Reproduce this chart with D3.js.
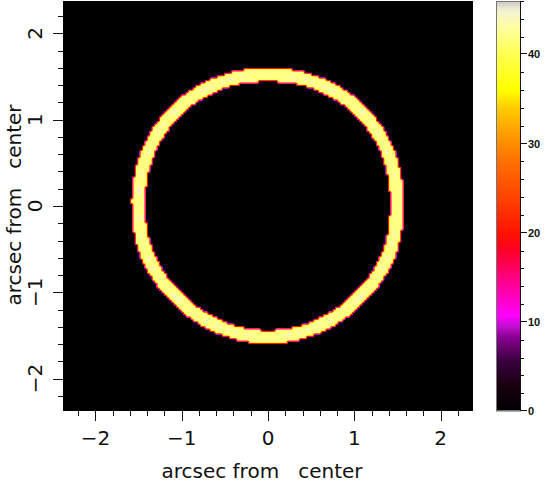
<!DOCTYPE html>
<html>
<head>
<meta charset="UTF-8">
<script src="https://d3js.org/d3.v7.min.js"></script>
<style>
  body { margin: 0; background: #fff; }
  svg { display: block; }
  text { fill: #111; }
  .tickLabel, .axisTitle { font-family: "DejaVu Sans", sans-serif; font-size: 20px; }
  .barLabel { font-family: "Liberation Sans", Arial, sans-serif; font-size: 11px; font-weight: bold; }
  .tick { stroke: #111; stroke-width: 1; shape-rendering: crispEdges; }
</style>
</head>
<body>
<svg id="chart" width="545" height="483"></svg>
<script>
// ring ridge radius (arcsec) at these angles (deg, ccw from +x)
const ringAngles = [0, 22.5, 45, 67.5, 90, 112.5, 135, 157.5, 180, 202.5, 225, 247.5, 270, 292.5, 315, 337.5]
const ringRadii  = [1.49, 1.52, 1.54, 1.53, 1.52, 1.53, 1.54, 1.52, 1.50, 1.51, 1.50, 1.51, 1.52, 1.51, 1.50, 1.51]
const ringHalfWidth = 0.078   // arcsec
const ringPeak = 42
const ringCrest = 46          // greyish dots along the ridge
const crestHalfWidth = 0.0025
const gridSize = 170          // source pixels across the field

const axisExtent = [-2.375, 2.375]
const majorTicks = [-2, -1, 0, 1, 2]
const minorStep = 0.2
const axisTitle = 'arcsec from   center'

const barDomain = [0, 46]
const barMajorTicks = [0, 10, 20, 30, 40]
const barMinorStep = 2

// colour table
const cmapValues = [0, 3, 5.7, 8.3, 9.5, 10.7, 13, 15.6, 18, 20, 24, 28, 31, 34, 36, 40, 43, 45, 46]
const cmapColors = ['#000000', '#1a0012', '#3c0040', '#880090', '#c010d0', '#ff00ff', '#ff00b8',
                    '#ff0070', '#ff0028', '#ff1400', '#ff4400', '#ff7000', '#ff9c00', '#ffcc00',
                    '#ffff00', '#ffff50', '#ffffa0', '#f2f2d4', '#c8c8c8']

const plot = {left: 63, top: 1, size: 410}
const bar = {left: 496, width: 25}

let svg = d3.select('#chart')

let x = d3.scaleLinear().domain(axisExtent).range([plot.left, plot.left + plot.size])
let y = d3.scaleLinear().domain(axisExtent).range([plot.top + plot.size, plot.top])
let color = d3.scaleLinear().domain(cmapValues).range(cmapColors).clamp(true)

let ridge = theta => {
    // theta in degrees, cyclic linear lookup in the read-off radii
    let t = ((theta % 360) + 360) % 360
    let i = d3.bisectRight(ringAngles, t) - 1
    let a0 = ringAngles[i], r0 = ringRadii[i]
    let a1 = i + 1 < ringAngles.length ? ringAngles[i + 1] : 360
    let r1 = ringRadii[(i + 1) % ringRadii.length]
    return r0 + (r1 - r0) * (t - a0) / (a1 - a0)
}

// source image values on a coarse grid
let cell = (axisExtent[1] - axisExtent[0]) / gridSize
let grid = new Float32Array(gridSize * gridSize)
for (let j = 0; j < gridSize; j++) {
    for (let i = 0; i < gridSize; i++) {
        let xd = axisExtent[0] + (i + 0.5) * cell
        let yd = axisExtent[0] + (j + 0.5) * cell
        let r = Math.hypot(xd, yd)
        let d = Math.abs(r - ridge(Math.atan2(yd, xd) * 180 / Math.PI))
        grid[j * gridSize + i] = d <= ringHalfWidth ? (d < crestHalfWidth ? ringCrest : ringPeak) : 0
    }
}
let gv = (i, j) => {
    i = Math.max(0, Math.min(gridSize - 1, i))
    j = Math.max(0, Math.min(gridSize - 1, j))
    return grid[j * gridSize + i]
}

// resample to screen pixels (bilinear) and paint through the colour scale
let canvas = document.createElement('canvas')
canvas.width = plot.size
canvas.height = plot.size
let ctx = canvas.getContext('2d')
let img = ctx.createImageData(plot.size, plot.size)
for (let py = 0; py < plot.size; py++) {
    for (let px = 0; px < plot.size; px++) {
        let xd = x.invert(plot.left + px + 0.5)
        let yd = y.invert(plot.top + py + 0.5)
        let fi = (xd - axisExtent[0]) / cell - 0.5
        let fj = (yd - axisExtent[0]) / cell - 0.5
        let i0 = Math.floor(fi), j0 = Math.floor(fj)
        let tx = fi - i0, ty = fj - j0
        let v = gv(i0, j0) * (1 - tx) * (1 - ty) + gv(i0 + 1, j0) * tx * (1 - ty)
              + gv(i0, j0 + 1) * (1 - tx) * ty + gv(i0 + 1, j0 + 1) * tx * ty
        let c = d3.rgb(color(v))
        let k = (py * plot.size + px) * 4
        img.data[k] = c.r
        img.data[k + 1] = c.g
        img.data[k + 2] = c.b
        img.data[k + 3] = 255
    }
}
ctx.putImageData(img, 0, 0)

svg.append('image')
    .attr('x', x(axisExtent[0]))
    .attr('y', y(axisExtent[1]))
    .attr('width', x(axisExtent[1]) - x(axisExtent[0]))
    .attr('height', y(axisExtent[0]) - y(axisExtent[1]))
    .attr('preserveAspectRatio', 'none')
    .attr('href', canvas.toDataURL())

// axis ticks
let minorTicks = d3.range(-2.2, 2.3, minorStep).map(v => Math.round(v * 10) / 10)
    .filter(v => !majorTicks.includes(v))
let bottom = y(axisExtent[0])

svg.selectAll('.xMinor').data(minorTicks).enter().append('line')
    .attr('class', 'tick')
    .attr('x1', d => Math.round(x(d)) + 0.5).attr('x2', d => Math.round(x(d)) + 0.5)
    .attr('y1', bottom).attr('y2', bottom + 5)
svg.selectAll('.xMajor').data(majorTicks).enter().append('line')
    .attr('class', 'tick')
    .attr('x1', d => Math.round(x(d)) + 0.5).attr('x2', d => Math.round(x(d)) + 0.5)
    .attr('y1', bottom).attr('y2', bottom + 10)
svg.selectAll('.yMinor').data(minorTicks).enter().append('line')
    .attr('class', 'tick')
    .attr('y1', d => Math.round(y(d)) + 0.5).attr('y2', d => Math.round(y(d)) + 0.5)
    .attr('x1', plot.left - 5).attr('x2', plot.left)
svg.selectAll('.yMajor').data(majorTicks).enter().append('line')
    .attr('class', 'tick')
    .attr('y1', d => Math.round(y(d)) + 0.5).attr('y2', d => Math.round(y(d)) + 0.5)
    .attr('x1', plot.left - 10).attr('x2', plot.left)

let fmt = d => d < 0 ? '\u2212' + Math.abs(d) : String(d)

svg.selectAll('.xLabel').data(majorTicks).enter().append('text')
    .attr('class', 'tickLabel')
    .attr('x', d => x(d)).attr('y', 445)
    .attr('text-anchor', 'middle')
    .text(fmt)
svg.selectAll('.yLabel').data(majorTicks).enter().append('text')
    .attr('class', 'tickLabel')
    .attr('transform', d => `translate(42, ${y(d)}) rotate(-90)`)
    .attr('text-anchor', 'middle')
    .text(fmt)

svg.append('text')
    .attr('class', 'axisTitle')
    .attr('x', x(0) - 6).attr('y', 478)
    .attr('text-anchor', 'middle')
    .style('white-space', 'pre')
    .text(axisTitle)
svg.append('text')
    .attr('class', 'axisTitle')
    .attr('transform', `translate(21, ${y(0) - 1}) rotate(-90)`)
    .attr('text-anchor', 'middle')
    .style('white-space', 'pre')
    .text(axisTitle)

// colour bar
let yb = d3.scaleLinear().domain(barDomain).range([plot.top + plot.size, plot.top])
let barStep = (barDomain[1] - barDomain[0]) / plot.size
svg.append('g').selectAll('rect')
    .data(d3.range(barDomain[0], barDomain[1], barStep))
    .enter().append('rect')
    .attr('x', bar.left)
    .attr('y', d => yb(d + barStep))
    .attr('width', bar.width)
    .attr('height', d => yb(d) - yb(d + barStep) + 0.3)
    .attr('fill', d => color(d + barStep / 2))
svg.append('rect')
    .attr('x', bar.left + 0.5).attr('y', yb(barDomain[1]) + 0.5)
    .attr('width', bar.width - 1).attr('height', yb(barDomain[0]) - yb(barDomain[1]) - 1)
    .attr('fill', 'none').attr('stroke', '#777')
svg.append('line')
    .attr('class', 'tick')
    .attr('x1', bar.left + bar.width - 0.5).attr('x2', bar.left + bar.width - 0.5)
    .attr('y1', yb(barDomain[1])).attr('y2', yb(barDomain[0]))

let barMinor = d3.range(barDomain[0], barDomain[1] + 0.1, barMinorStep).filter(v => !barMajorTicks.includes(v))
svg.selectAll('.bMinor').data(barMinor).enter().append('line')
    .attr('class', 'tick')
    .attr('x1', bar.left + bar.width).attr('x2', bar.left + bar.width + 3)
    .attr('y1', d => Math.round(yb(d)) + 0.5).attr('y2', d => Math.round(yb(d)) + 0.5)
svg.selectAll('.bMajor').data(barMajorTicks).enter().append('line')
    .attr('class', 'tick')
    .attr('x1', bar.left + bar.width).attr('x2', bar.left + bar.width + 6)
    .attr('y1', d => Math.round(yb(d)) - 0.5).attr('y2', d => Math.round(yb(d)) - 0.5)
svg.selectAll('.bLabel').data(barMajorTicks).enter().append('text')
    .attr('class', 'barLabel')
    .attr('x', 528).attr('y', d => yb(d))
    .attr('dy', '0.36em')
    .text(d => d)
</script>
</body>
</html>
